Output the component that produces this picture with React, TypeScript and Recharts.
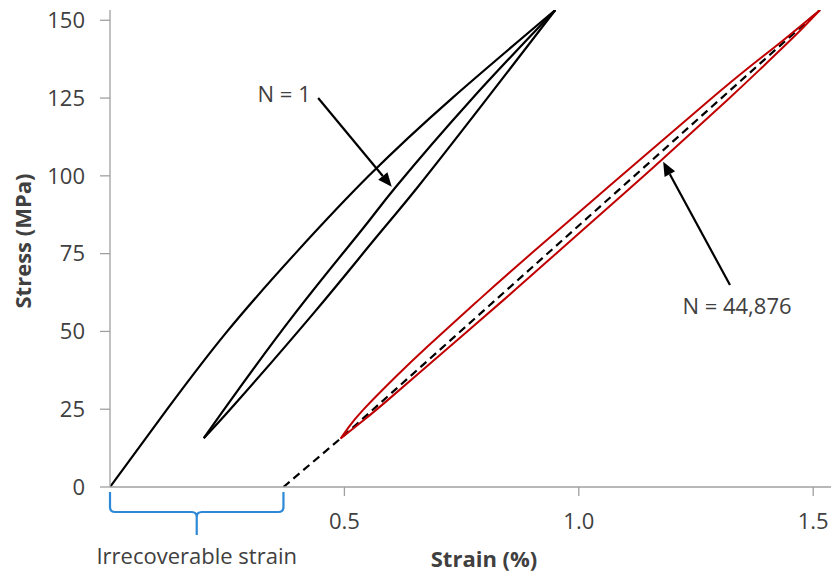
import React from 'react';
import { LineChart, Line, XAxis, YAxis, ReferenceLine } from 'recharts';

// N = 1 cycle, split into branches (strain %, stress MPa)
const firstLoadStrain = [0, 0.122, 0.25, 0.395, 0.552, 0.73, 0.95];
const firstLoadStress = [0, 25, 50, 75, 100, 125, 153.3];
const firstUnloadStrain = [0.2, 0.268, 0.434, 0.56, 0.657, 0.802, 0.95];
const firstUnloadStress = [15.7, 26.9, 55.8, 78.8, 96.5, 124.4, 153.3];
const firstReloadStrain = [0.2, 0.2527, 0.3946, 0.537, 0.61, 0.77, 0.95];
const firstReloadStress = [15.7, 26.9, 55.8, 82.6, 96.5, 124.4, 153.3];

// N = 44,876 cycle
const lateUpperStrain = [0.492, 0.51, 0.54, 0.61, 0.679, 0.788, 0.909, 1.032, 1.126, 1.279, 1.364, 1.4395, 1.5145];
const lateUpperStress = [15.6, 19.4, 24.8, 35.5, 45.4, 60.3, 76.4, 92.4, 104.6, 124.4, 135, 144, 153.3];
const lateLowerStrain = [0.492, 0.5455, 0.593, 0.6755, 0.841, 0.962, 1.082, 1.173, 1.317, 1.392, 1.461, 1.5145];
const lateLowerStress = [15.6, 22, 28, 38.7, 60.3, 76.4, 92.4, 104.6, 124.4, 135, 145, 153.3];

// dashed secant back to zero stress
const secantStrain = [0.37, 0.492, 1.5145];
const secantStress = [0, 15.6, 153.3];

const xTicks = [0.5, 1.0, 1.5];
const yTicks = [0, 25, 50, 75, 100, 125, 150];

const zip = (xs: number[], ys: number[]) => xs.map((x, i) => ({ x, y: ys[i] }));

const FONT = '"Open Sans", sans-serif';
const TEXT = '#404040';
const AXIS = '#a0a0a0';
const RED = '#c00000';

// arrow drawn on a ReferenceLine segment, label placed near its tail
const arrowShape = (label: string, dx: number, dy: number) => (p: any) => {
  const { x1, y1, x2, y2 } = p;
  const ang = Math.atan2(y2 - y1, x2 - x1);
  const len = 14;
  const half = 6;
  const bx = x2 - len * Math.cos(ang);
  const by = y2 - len * Math.sin(ang);
  const px = -Math.sin(ang) * half;
  const py = Math.cos(ang) * half;
  return (
    <g>
      <line x1={x1} y1={y1} x2={bx} y2={by} stroke="#000" strokeWidth={2.2} />
      <polygon points={`${x2},${y2} ${bx + px},${by + py} ${bx - px},${by - py}`} fill="#000" />
      <text x={x1 + dx} y={y1 + dy} textAnchor="middle" dominantBaseline="central" fontSize={22} fontFamily={FONT} fill={TEXT}>
        {label}
      </text>
    </g>
  );
};

// curly brace under the x axis
const braceShape = (p: any) => {
  const { x1, x2, y1 } = p;
  const xm = (x1 + x2) / 2;
  const y0 = y1 + 5;
  const yh = y1 + 25;
  const yb = y1 + 48;
  const d = `M ${x1} ${y0} V ${yh - 5} Q ${x1} ${yh} ${x1 + 5} ${yh} H ${xm - 5} Q ${xm} ${yh} ${xm} ${yh + 5} V ${yb} M ${xm} ${yh + 5} Q ${xm} ${yh} ${xm + 5} ${yh} H ${x2 - 5} Q ${x2} ${yh} ${x2} ${yh - 5} V ${y0}`;
  return (
    <g>
      <path d={d} fill="none" stroke="#2d89d8" strokeWidth={2.2} />
      <text x={xm} y={y1 + 68} textAnchor="middle" dominantBaseline="central" fontSize={22} fontFamily={FONT} fill={TEXT}>
        Irrecoverable strain
      </text>
    </g>
  );
};

const branches = [
  { key: 'lateUpper', data: zip(lateUpperStrain, lateUpperStress), color: RED, width: 2 },
  { key: 'lateLower', data: zip(lateLowerStrain, lateLowerStress), color: RED, width: 2 },
  { key: 'firstLoad', data: zip(firstLoadStrain, firstLoadStress), color: '#000', width: 2.2 },
  { key: 'firstUnload', data: zip(firstUnloadStrain, firstUnloadStress), color: '#000', width: 2.2 },
  { key: 'firstReload', data: zip(firstReloadStrain, firstReloadStress), color: '#000', width: 2.2 },
];

export default function App() {
  const tickStyle = { fontSize: 22, fontFamily: FONT, fill: TEXT };
  return (
    <div style={{ position: 'absolute', left: 0, top: 0, width: 831, height: 576, background: '#fff' }}>
      <LineChart width={831} height={576} margin={{ top: 10, right: 0, bottom: 0, left: 0 }} style={{ fontFamily: FONT }}>
        <XAxis
          dataKey="x"
          type="number"
          domain={[0, 1.538]}
          allowDataOverflow
          ticks={xTicks}
          tickFormatter={(v: number) => v.toFixed(1)}
          height={89}
          tickSize={9}
          tickMargin={17}
          tick={tickStyle}
          stroke={AXIS}
          strokeWidth={1.3}
          label={{
            content: () => (
              <text x={484} y={558} textAnchor="middle" dominantBaseline="central" fontSize={22} fontWeight="bold" fontFamily={FONT} fill={TEXT}>
                Strain (%)
              </text>
            ),
          }}
        />
        <YAxis
          dataKey="y"
          type="number"
          domain={[0, 153.3]}
          allowDataOverflow
          ticks={yTicks}
          width={110}
          tickSize={10}
          tickMargin={15}
          tick={tickStyle}
          stroke={AXIS}
          strokeWidth={1.3}
          label={{
            content: () => (
              <text x={22} y={241} transform="rotate(-90 22 241)" textAnchor="middle" dominantBaseline="central" fontSize={22} fontWeight="bold" fontFamily={FONT} fill={TEXT}>
                Stress (MPa)
              </text>
            ),
          }}
        />
        <Line data={zip(secantStrain, secantStress)} dataKey="y" type="linear" stroke="#000" strokeWidth={2.2} strokeDasharray="8 5" dot={false} activeDot={false} isAnimationActive={false} />
        {branches.map(b => (
          <Line key={b.key} data={b.data} dataKey="y" type="natural" stroke={b.color} strokeWidth={b.width} dot={false} activeDot={false} isAnimationActive={false} />
        ))}
        <ReferenceLine segment={[{ x: 0.444, y: 125 }, { x: 0.601, y: 96.5 }]} shape={arrowShape('N = 1', -34, -5)} />
        <ReferenceLine segment={[{ x: 1.3225, y: 64.9 }, { x: 1.18, y: 104.5 }]} shape={arrowShape('N = 44,876', 7, 20)} />
        <ReferenceLine segment={[{ x: 0, y: 0 }, { x: 0.37, y: 0 }]} shape={braceShape} />
      </LineChart>
    </div>
  );
}
